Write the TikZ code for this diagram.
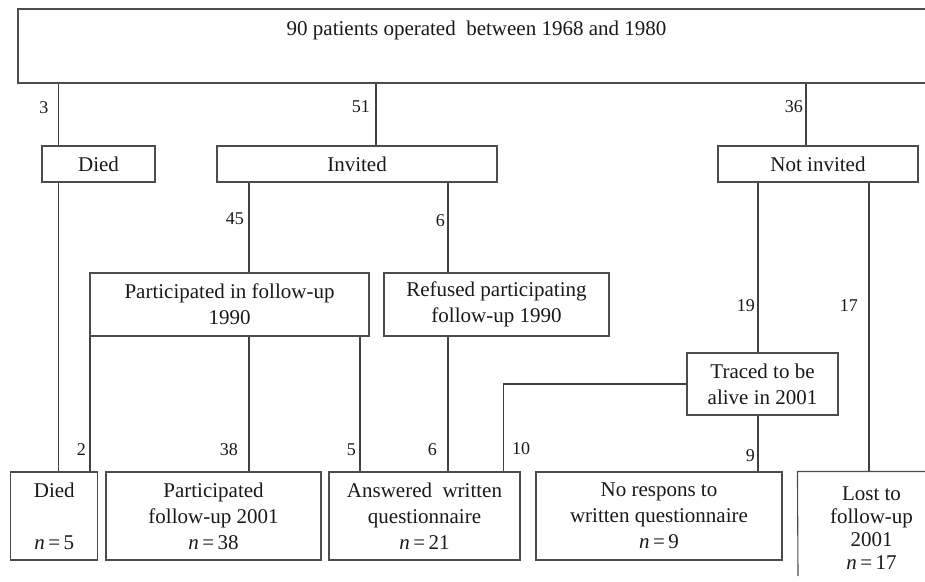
\documentclass[tikz,border=0pt]{standalone}
\usepackage{fontspec}
\setmainfont{Liberation Serif}
\begin{document}
\begin{tikzpicture}[x=1pt,y=-1pt,
  box/.style={draw=black!70, line width=1.1pt, inner sep=0pt, align=center,
    font=\fontsize{21}{26}\selectfont, text=black!90},
  txt/.style={inner sep=0pt, align=center, font=\fontsize{21}{26}\selectfont, text=black!90},
  edge/.style={draw=black!70, line width=1.1pt},
  conn/.style={draw=black!75, line width=1.1pt},
  lbl/.style={inner sep=0pt, font=\fontsize{18}{20}\selectfont, text=black!90}]
\useasboundingbox (0,0) rectangle (925,581);
\clip (0,0) rectangle (925,581);

% boxes
\node[box, minimum width=917pt, minimum height=74pt] (top) at (476.5,46) {};
\node[txt] (toptext) at (476.5,30) {90 patients operated\ \ between 1968 and 1980};
\node[box, minimum width=113pt, minimum height=36pt] (died) at (98.5,164) {Died};
\node[box, minimum width=280pt, minimum height=36pt] (invited) at (357,164) {Invited};
\node[box, minimum width=200pt, minimum height=36pt] (notinv) at (818,164) {Not invited};
\node[box, minimum width=279pt, minimum height=63pt] (part90) at (229.5,304.5) {Participated in follow-up\\1990};
\node[box, minimum width=225pt, minimum height=63pt] (refused) at (496.5,304.5) {Refused participating\\follow-up 1990};
\node[box, minimum width=151pt, minimum height=62pt] (traced) at (762.5,384) {Traced to be\\alive in 2001};
\node[box, minimum width=87pt, minimum height=88pt] (died2) at (54.3,516) {Died\\[26pt]\textit{n}\,=\,5};
\node[box, minimum width=215pt, minimum height=88pt] (part01) at (213.5,516) {Participated\\follow-up 2001\\\textit{n}\,=\,38};
\node[box, minimum width=191pt, minimum height=88pt] (answered) at (424.5,516) {Answered\ \ written\\questionnaire\\\textit{n}\,=\,21};
\node[box, minimum width=246pt, minimum height=88pt] (noresp) at (659,516) {No respons to\\written questionnaire\\\textit{n}\,=\,9};
\node[box, draw=none, font=\fontsize{21}{23}\selectfont, minimum width=147pt, minimum height=113pt] (lost) at (871.5,528.5) {Lost to\\follow-up\\2001\\\textit{n}\,=\,17};
\coordinate (lostend) at (798,576);
\draw[edge] (lostend) -- (lost.north west) -- (lost.north east);

% x positions of connectors
\coordinate (xa) at (58.7,0);
\coordinate (xb) at (90,0);
\coordinate (xc) at (249,0);
\coordinate (xd) at (360,0);
\coordinate (xe) at (448,0);
\coordinate (xf) at (376,0);
\coordinate (xg) at (806,0);
\coordinate (xh) at (758,0);
\coordinate (xi) at (869,0);
\coordinate (xj) at (503.7,0);

% connectors
\draw[conn] (top.south -| xa) -- (died.north -| xa);
\draw[conn] (top.south -| xf) -- (invited.north -| xf);
\draw[conn] (top.south -| xg) -- (notinv.north -| xg);
\draw[conn] (died.south -| xa) -- (died2.north -| xa);
\draw[conn] (invited.south -| xc) -- (part90.north -| xc);
\draw[conn] (invited.south -| xe) -- (refused.north -| xe);
\draw[conn] (part90.south -| xb) -- (died2.north -| xb);
\draw[conn] (part90.south -| xc) -- (part01.north -| xc);
\draw[conn] (part90.south -| xd) -- (answered.north -| xd);
\draw[conn] (refused.south -| xe) -- (answered.north -| xe);
\draw[conn] (notinv.south -| xh) -- (traced.north -| xh);
\draw[conn] (notinv.south -| xi) -- (lost.north -| xi);
\draw[conn] (traced.west) -| (answered.north -| xj);
\draw[conn] (traced.south -| xh) -- (noresp.north -| xh);

% labels
\node[lbl, anchor=east] (l3) at (48.5,108) {3};
\node[lbl, anchor=east] (l51) at (370,107) {51};
\node[lbl, anchor=east] (l36) at (803,107) {36};
\node[lbl, anchor=east] (l45) at (244,219) {45};
\node[lbl, anchor=east] (l6a) at (445,221) {6};
\node[lbl, anchor=east] (l19) at (755,306) {19};
\node[lbl, anchor=east] (l17) at (858,306) {17};
\node[lbl, anchor=east] (l2) at (86,450) {2};
\node[lbl, anchor=east] (l38) at (238,450) {38};
\node[lbl, anchor=east] (l5) at (356,450) {5};
\node[lbl, anchor=east] (l6b) at (437,450) {6};
\node[lbl, anchor=west] (l10) at (512,449) {10};
\node[lbl, anchor=east] (l9) at (755,456) {9};
\end{tikzpicture}
\end{document}
